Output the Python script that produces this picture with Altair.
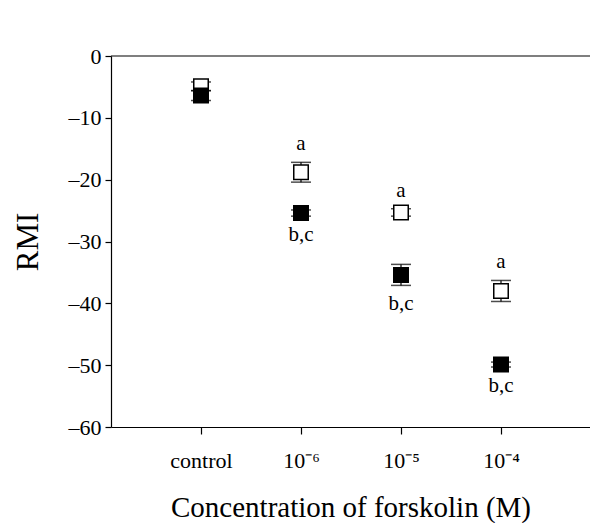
import altair as alt
import pandas as pd

# --- data ---
conc_labels = ["control", "10⁻⁶", "10⁻⁵", "10⁻⁴"]
conc_pos = [1, 2, 3, 4]
open_mean = [-4.9, -18.8, -25.3, -38.0]
open_err = [0.7, 1.6, 0.6, 1.7]
filled_mean = [-6.4, -25.4, -35.4, -49.9]
filled_err = [0.8, 0.5, 1.7, 0.4]
open_sig = ["", "a", "a", "a"]
filled_sig = ["", "b,c", "b,c", "b,c"]
y_ticks = [0, -10, -20, -30, -40, -50, -60]

rows = []
for i in range(len(conc_pos)):
    rows.append(dict(pos=conc_pos[i], group="open", mean=open_mean[i],
                     lo=open_mean[i] - open_err[i], hi=open_mean[i] + open_err[i], sig=open_sig[i]))
    rows.append(dict(pos=conc_pos[i], group="filled", mean=filled_mean[i],
                     lo=filled_mean[i] - filled_err[i], hi=filled_mean[i] + filled_err[i], sig=filled_sig[i]))
df = pd.DataFrame(rows)

FONT = "Liberation Serif"
label_expr = " : ".join(
    [f"datum.value == {p} ? '{l}'" for p, l in zip(conc_pos[:-1], conc_labels[:-1])]
) + f" : '{conc_labels[-1]}'"

x = alt.X("pos:Q", scale=alt.Scale(domain=[0.1, 4.89], nice=False, zero=False),
          axis=alt.Axis(values=conc_pos, labelExpr=label_expr, grid=False,
                        title="Concentration of forskolin (M)", tickSize=7,
                        labelPadding=16, titlePadding=22, labelFont=FONT, labelFontSize=22,
                        titleFont=FONT, titleFontSize=29, titleFontWeight="normal",
                        domainColor="black", tickColor="black", labelColor="black",
                        titleColor="black"))
y = alt.Y("mean:Q", scale=alt.Scale(domain=[-60, 0], nice=False),
          axis=alt.Axis(values=y_ticks, grid=False, title="RMI",
                        labelExpr="replace(toString(datum.value), '-', '–')", tickSize=6, labelPadding=4,
                        titlePadding=24, labelFont=FONT, labelFontSize=22,
                        titleFont=FONT, titleFontSize=31, titleFontWeight="normal",
                        domainColor="black", tickColor="black", labelColor="black",
                        titleColor="black"))

base = alt.Chart(df)

top_frame = alt.Chart(pd.DataFrame({"v": [0]})).mark_rule(color="black", strokeWidth=1.2).encode(
    y=alt.Y("v:Q", scale=alt.Scale(domain=[-60, 0], nice=False)))

def series(g, fill):
    d = base.transform_filter(alt.datum.group == g)
    rule = d.mark_rule(color="black", strokeWidth=1.2).encode(x=x, y=alt.Y("lo:Q"), y2="hi:Q")
    cap_hi = d.mark_tick(color="black", size=20, thickness=1.5, orient="horizontal").encode(x=x, y=alt.Y("hi:Q"))
    cap_lo = d.mark_tick(color="black", size=20, thickness=1.5, orient="horizontal").encode(x=x, y=alt.Y("lo:Q"))
    pts = d.mark_square(size=210, fill=fill, stroke="black", strokeWidth=1.5, opacity=1).encode(x=x, y=y)
    return rule + cap_hi + cap_lo + pts

open_layer = series("open", "white")
filled_layer = series("filled", "black")

a_text = base.transform_filter(alt.datum.group == "open").mark_text(
    font=FONT, fontSize=21, dy=-18, color="black", baseline="middle").encode(
    x=x, y=alt.Y("hi:Q"), text="sig:N")
bc_text = base.transform_filter(alt.datum.group == "filled").mark_text(
    font=FONT, fontSize=21, dy=19, color="black", baseline="middle").encode(
    x=x, y=alt.Y("lo:Q"), text="sig:N")

chart = alt.layer(top_frame, open_layer, filled_layer, a_text, bc_text).properties(
    width=479, height=371,
    autosize=alt.AutoSizeParams(type="none"),
    padding={"left": 103, "top": 48, "right": 0, "bottom": 96},
).configure_view(stroke=None).configure_axis(domainWidth=1.2, tickWidth=1.2)

chart.save("out.html", embed_options={"renderer": "svg", "actions": False})
